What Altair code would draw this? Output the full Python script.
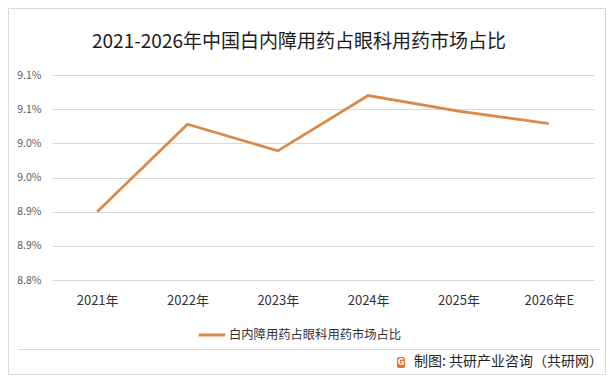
import altair as alt
import pandas as pd

# ---- data ----
years = ["2021年", "2022年", "2023年", "2024年", "2025年", "2026年E"]
shares = [8.90, 9.028, 8.989, 9.070, 9.047, 9.029]  # percent
series_name = "白内障用药占眼科用药市场占比"
y_ticks = [8.80, 8.85, 8.90, 8.95, 9.00, 9.05, 9.10]
y_tick_labels = ["8.8%", "8.9%", "8.9%", "9.0%", "9.0%", "9.1%", "9.1%"]
title_text = "2021-2026年中国白内障用药占眼科用药市场占比"
footer_text = "制图: 共研产业咨询（共研网）"

df = pd.DataFrame({"year": years, "share": shares, "series": [series_name] * len(years)})

FONT = "Noto Sans CJK SC"
LINE_COLOR = "#D98A48"
GRID = "#D9D9D9"

label_arr = "[" + ",".join("'%s'" % s for s in y_tick_labels) + "]"

line = alt.Chart(df).mark_line(strokeWidth=2.8).encode(
    x=alt.X("year:N", sort=years,
            scale=alt.Scale(type="point", padding=0.5),
            axis=alt.Axis(title=None, domain=False, ticks=False, grid=False,
                          labelAngle=0, labelFont=FONT, labelFontSize=13,
                          labelColor="#333333", labelPadding=14)),
    y=alt.Y("share:Q", scale=alt.Scale(domain=[8.80, 9.10], zero=False, nice=False),
            axis=alt.Axis(title=None, domain=False, ticks=False, values=y_ticks,
                          gridColor=GRID, gridWidth=1,
                          labelExpr=label_arr + "[round((datum.value-8.8)/0.05)]",
                          labelFont=FONT, labelFontSize=10.5, labelColor="#595959",
                          labelPadding=11)),
    color=alt.Color("series:N", scale=alt.Scale(range=[LINE_COLOR]),
                    legend=alt.Legend(title=None)),
)

one = pd.DataFrame({"t": [title_text]})
title = alt.Chart(one).mark_text(font=FONT, fontSize=19, color="#1a1a1a",
                                 align="center", baseline="middle").encode(
    x=alt.value(247), y=alt.value(-33), text="t:N")

foot = alt.Chart(pd.DataFrame({"t": [footer_text]})).mark_text(
    font=FONT, fontSize=14, color="#222222", align="right", baseline="middle").encode(
    x=alt.value(551), y=alt.value(287), text="t:N")

logo = alt.Chart(pd.DataFrame({"a": [1]})).mark_rect(color="#F26A21", cornerRadius=2).encode(
    x=alt.value(345), x2=alt.value(353), y=alt.value(282), y2=alt.value(293))

logo_g = alt.Chart(pd.DataFrame({"t": ["G"]})).mark_text(
    font="DejaVu Sans", fontWeight="bold", fontSize=8, color="white",
    align="center", baseline="middle").encode(
    x=alt.value(349), y=alt.value(287.5), text="t:N")

sep = alt.Chart(pd.DataFrame({"a": [1]})).mark_rule(color=GRID, strokeWidth=1).encode(
    x=alt.value(-34), x2=alt.value(548), y=alt.value(274.5))

border = alt.Chart(pd.DataFrame({"a": [1]})).mark_rect(
    fill=None, stroke=GRID, strokeWidth=1).encode(
    x=alt.value(-43.5), x2=alt.value(553.5), y=alt.value(-66.5), y2=alt.value(299.5))

chart = alt.layer(border, sep, line, title, foot, logo, logo_g).properties(
    width=542, height=205,
    autosize=alt.AutoSizeParams(type="none"),
    padding={"left": 44, "top": 67, "right": 14, "bottom": 96},
    background="white",
).configure_view(stroke=None).configure_legend(
    orient="none", legendX=145, legendY=245,
    symbolType="stroke", symbolSize=700, symbolStrokeWidth=3,
    labelFont=FONT, labelFontSize=12.3, labelColor="#333333", labelOffset=2,
    labelLimit=0,
)

chart.save("out.html", embed_options={"renderer": "svg", "actions": False})
